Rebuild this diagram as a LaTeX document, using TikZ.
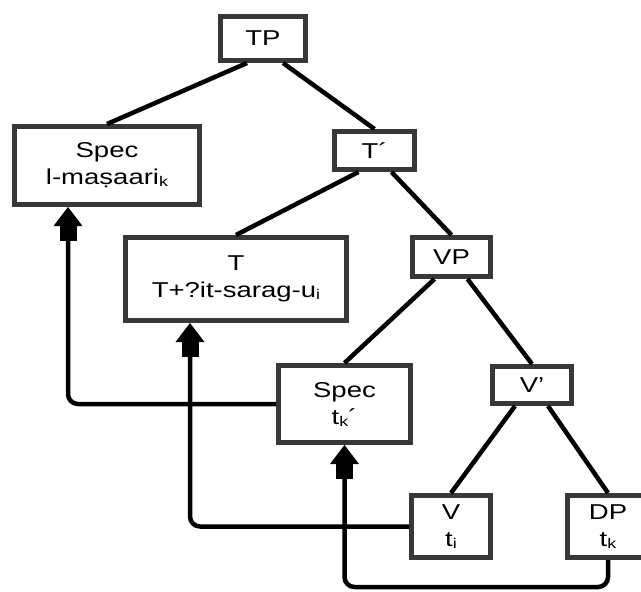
\documentclass[tikz,border=0pt]{standalone}
\usepackage{fontspec}
\setmainfont{Liberation Sans}[FakeStretch=1.28]
\usetikzlibrary{arrows.meta,calc}
\definecolor{boxgray}{HTML}{383838}
\newcommand{\sbs}[1]{\raisebox{-2pt}{\fontsize{14}{14}\selectfont #1}}
\begin{document}
\begin{tikzpicture}[x=1pt,y=-1pt,
  box/.style={draw=boxgray, line width=5pt, fill=white, inner sep=0pt, align=center, font=\fontsize{21.5}{27}\selectfont},
  edge/.style={line width=4.5pt, draw=black},
  mv/.style={line width=4.5pt, draw=black, rounded corners=10pt, -{Rectangle[width=17pt,length=16pt,sep=-1pt,line width=0pt]Triangle[width=29pt,length=19pt,line width=0pt]}}]
\useasboundingbox (0,0) rectangle (641,592);
\node[box, minimum width=85pt, minimum height=44pt] (TP) at (263,38.5) {TP};
\node[box, minimum width=185pt, minimum height=78pt] (Spec) at (107,165.5) {Spec\\l-maṣaari\sbs{k}};
\node[box, minimum width=80pt, minimum height=38pt] (Tbar) at (374.5,150.5) {T´};
\node[box, minimum width=221pt, minimum height=83pt] (T) at (236,279) {T\\T+?it-sarag-u\sbs{i}};
\node[box, minimum width=78pt, minimum height=39pt] (VP) at (451.5,257) {VP};
\node[box, minimum width=132pt, minimum height=77pt] (SpecK) at (344.5,404) {Spec\\t\sbs{k}´};
\node[box, minimum width=79pt, minimum height=37pt] (Vbar) at (532,385) {V’};
\node[box, minimum width=79pt, minimum height=62pt] (V) at (451,526.5) {V\\t\sbs{i}};
\node[box, minimum width=81pt, minimum height=62pt] (DP) at (608,526.5) {DP\\t\sbs{k}};
\draw[edge] ([xshift=-16pt]TP.south) -- (Spec.north);
\draw[edge] ([xshift=20pt]TP.south) -- (Tbar.north);
\draw[edge] ([xshift=-16pt]Tbar.south) -- (T.north);
\draw[edge] ([xshift=17pt]Tbar.south) -- (VP.north);
\draw[edge] ([xshift=-17pt]VP.south) -- (SpecK.north);
\draw[edge] ([xshift=16pt]VP.south) -- (Vbar.north);
\draw[edge] ([xshift=-17pt]Vbar.south) -- (V.north);
\draw[edge] ([xshift=16pt]Vbar.south) -- (DP.north);
\coordinate (low) at (0,587);
\draw[mv] (SpecK.west) -| ([xshift=-39pt]Spec.south);
\draw[mv] (V.west) -| ([xshift=-46pt]T.south);
\draw[mv] (DP.south) -- (DP.south |- low) -| (SpecK.south);
\end{tikzpicture}
\end{document}
